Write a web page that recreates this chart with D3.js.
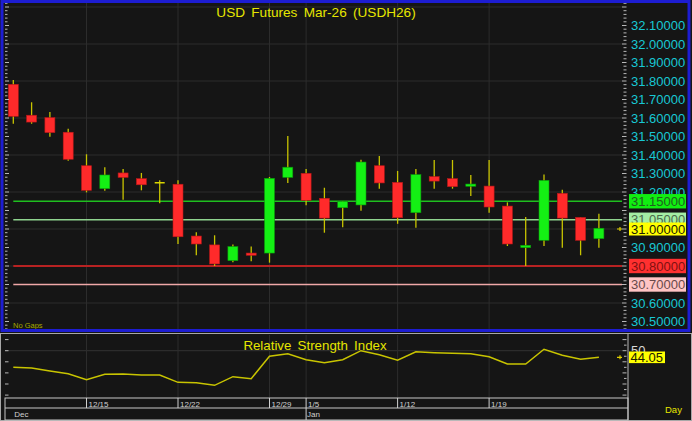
<!DOCTYPE html>
<html><head><meta charset="utf-8">
<script src="https://cdn.jsdelivr.net/npm/d3@7"></script>
<style>
html,body{margin:0;padding:0;background:#151515;}
svg{display:block;font-family:"Liberation Sans",Arial,sans-serif;}
</style></head><body>
<svg id="c" width="692" height="421"></svg>
<script>
// ---------- DATA ----------
const dates = ["2025-12-09","2025-12-10","2025-12-11","2025-12-12","2025-12-15","2025-12-16","2025-12-17","2025-12-18","2025-12-19",
  "2025-12-22","2025-12-23","2025-12-24","2025-12-25","2025-12-26","2025-12-29","2025-12-30",
  "2026-01-05","2026-01-06","2026-01-07","2026-01-08","2026-01-09","2026-01-12","2026-01-13","2026-01-14","2026-01-15","2026-01-16",
  "2026-01-19","2026-01-20","2026-01-21","2026-01-22","2026-01-23","2026-01-26","2026-01-27"];
const openP  = [31.782,31.615,31.602,31.523,31.342,31.218,31.303,31.272,31.250,31.242,30.962,30.914,30.829,30.870,30.870,31.279,31.301,31.166,31.115,31.130,31.342,31.252,31.088,31.283,31.272,31.231,31.232,31.124,30.899,30.939,31.193,31.063,30.948];
const highP  = [31.805,31.685,31.632,31.542,31.404,31.334,31.324,31.303,31.263,31.263,30.982,30.966,30.916,30.905,31.281,31.503,31.324,31.223,31.150,31.375,31.395,31.314,31.324,31.373,31.373,31.292,31.373,31.144,31.065,31.294,31.212,31.063,31.083];
const lowP   = [31.569,31.569,31.499,31.369,31.198,31.207,31.158,31.209,31.139,30.919,30.858,30.800,30.820,30.826,30.818,31.249,31.128,30.980,31.010,31.099,31.218,31.028,31.007,31.218,31.218,31.178,31.088,30.908,30.800,30.908,30.899,30.858,30.899];
const closeP = [31.609,31.578,31.521,31.377,31.209,31.292,31.279,31.239,31.250,30.958,30.919,30.811,30.905,30.858,31.274,31.334,31.155,31.059,31.148,31.362,31.249,31.061,31.294,31.259,31.229,31.243,31.119,30.919,30.912,31.263,31.059,30.939,31.004];
const rsiVals = [35.0,34.4,31.7,29.3,23.9,28.7,29.0,28.1,28.1,21.5,21.2,18.8,26.6,24.8,45.0,47.3,41.9,39.2,41.9,50.0,46.4,41.4,49.1,48.2,47.6,47.3,44.6,38.0,38.0,51.3,45.9,42.3,44.05];
// visible tick labels (31.10 and 31.00 are covered by level labels in the original)
const priceTicks = [32.1,32.0,31.9,31.8,31.7,31.6,31.5,31.4,31.3,31.2,30.9,30.6,30.5];
const gridPrices = [32.2,32.0,31.8,31.6,31.4,31.2,31.0,30.8,30.6];
const weekDates = ["2025-12-15","2025-12-22","2025-12-29","2026-01-05","2026-01-12","2026-01-19"];
const weekLabels = ["12/15","12/22","12/29","1/5","1/12","1/19"];
const monthDates = ["2025-12-09","2026-01-05"];
const monthLabels = ["Dec","Jan"];
const levelValues = [31.15, 31.05, 30.80, 30.70];
const lastPrice = 31.00;
const rsiTicksLeft = [10,20,30,40,50,60];
const rsiTicksRight = [10,15,20,25,30,35,40,45,50,55,60];
const rsiAxisLabel = 50;
const lastRsi = 44.05;
const title = "USD Futures Mar-26 (USDH26)";
const rsiTitle = "Relative Strength Index";

// ---------- STYLES ----------
const levelStyles = [
  {line:"#1fbf1f", w:1.5, bg:"#11ee11", fg:"#206020"},
  {line:"#8fd48f", w:1.5, bg:"#a4eea4", fg:"#4a6a4a"},
  {line:"#b82222", w:2,   bg:"#ff3030", fg:"#801010"},
  {line:"#f0a8a8", w:1.5, bg:"#ffc4c4", fg:"#6a4a4a"}
];

const svg = d3.select("#c");
const plotL = 5, plotR = 622, plotT = 3, plotB = 330;
const rsiT = 335, rsiB = 398;

const x = d3.scalePoint().domain(dates).range([13.3, 598.9]);
const y = d3.scaleLinear().domain([30.8, 32.1]).range([266, 25.5]);
const yR = d3.scaleLinear().domain([10, 60]).range([395.1, 339.6]);

svg.append("rect").attr("x",0).attr("y",0).attr("width",692).attr("height",421).attr("fill","#151515");

// ---------- MAIN PANE ----------
const main = svg.append("g");
svg.append("clipPath").attr("id","cm").append("rect")
  .attr("x",plotL).attr("y",plotT).attr("width",plotR-plotL).attr("height",plotB-plotT);

const g = main.append("g").attr("clip-path","url(#cm)");
g.selectAll(".hg").data(gridPrices).join("line")
  .attr("x1",plotL).attr("x2",plotR).attr("y1",d=>y(d)).attr("y2",d=>y(d))
  .attr("stroke","#2c2c2c").attr("stroke-width",1.2);
g.selectAll(".vg").data(weekDates).join("line")
  .attr("x1",d=>x(d)).attr("x2",d=>x(d)).attr("y1",plotT).attr("y2",plotB)
  .attr("stroke","#2c2c2c").attr("stroke-width",1);

g.selectAll(".lv").data(levelValues).join("line")
  .attr("x1",x(dates[0])).attr("x2",plotR)
  .attr("y1",d=>y(d)).attr("y2",d=>y(d))
  .attr("stroke",(d,i)=>levelStyles[i].line).attr("stroke-width",(d,i)=>levelStyles[i].w);

const idx = d3.range(dates.length);
const bodyW = 10;
const col = i => closeP[i] > openP[i] ? "#14f014" : (closeP[i] < openP[i] ? "#ff2a2a" : "#d8d800");
const edge = i => closeP[i] > openP[i] ? "#0a9a0a" : "#b81818";
g.selectAll(".wick").data(idx).join("line")
  .attr("x1",i=>x(dates[i])).attr("x2",i=>x(dates[i]))
  .attr("y1",i=>y(highP[i])).attr("y2",i=>y(lowP[i]))
  .attr("stroke","#c8c400").attr("stroke-width",1.3);
g.selectAll(".body").data(idx.filter(i=>closeP[i]!==openP[i])).join("rect")
  .attr("x",i=>x(dates[i])-bodyW/2)
  .attr("y",i=>y(Math.max(openP[i],closeP[i])))
  .attr("width",bodyW)
  .attr("height",i=>Math.max(2, y(Math.min(openP[i],closeP[i])) - y(Math.max(openP[i],closeP[i]))))
  .attr("fill",col).attr("stroke",edge).attr("stroke-width",0.6);
g.selectAll(".doji").data(idx.filter(i=>closeP[i]===openP[i])).join("line")
  .attr("x1",i=>x(dates[i])-bodyW/2).attr("x2",i=>x(dates[i])+bodyW/2)
  .attr("y1",i=>y(openP[i])).attr("y2",i=>y(openP[i]))
  .attr("stroke","#d8d400").attr("stroke-width",1.5);

main.append("text").attr("x",316).attr("y",16.5).attr("text-anchor","middle")
  .attr("fill","#e6e600").attr("font-size","13.6px").style("word-spacing","2.5px").text(title);
main.append("text").attr("x",13).attr("y",328).attr("fill","#a8a800").attr("font-size","7.5px").text("No Gaps");

const minorVals = d3.range(30.42, 32.23, 0.02);
main.selectAll(".lt").data(minorVals).join("line")
  .attr("x1",5).attr("x2",(d)=>Math.abs(Math.round(d*10)-d*10)<0.01?9:7.5)
  .attr("y1",d=>y(d)).attr("y2",d=>y(d)).attr("stroke","#b8b8b8").attr("stroke-width",1)
  .filter(d=>y(d)<plotT||y(d)>plotB).remove();
main.selectAll(".rt").data(minorVals).join("line")
  .attr("x1",(d)=>Math.abs(Math.round(d*10)-d*10)<0.01?622:623.5).attr("x2",626.5)
  .attr("y1",d=>y(d)).attr("y2",d=>y(d)).attr("stroke","#b8b8b8").attr("stroke-width",1)
  .filter(d=>y(d)<plotT||y(d)>plotB).remove();

const ax = d3.axisRight(y).tickValues(priceTicks).tickFormat(d3.format(".5f")).tickSize(0).tickPadding(9);
const axg = main.append("g").attr("transform","translate(622,0)").call(ax);
axg.select(".domain").remove();
axg.selectAll("text").attr("fill","#18c8d4").attr("font-size","13px")
  .attr("font-family","'Liberation Sans',Arial,sans-serif");

const lb = main.selectAll(".lb").data(levelValues).join("g")
  .attr("transform",d=>`translate(629,${y(d)})`);
lb.append("rect").attr("x",0).attr("y",-7.2).attr("width",57).attr("height",14.4)
  .attr("fill",(d,i)=>levelStyles[i].bg);
lb.append("text").attr("x",2).attr("dy","0.36em").attr("font-size","13px")
  .attr("fill",(d,i)=>levelStyles[i].fg).text(d=>d3.format(".5f")(d));
const lp = main.append("g").attr("transform",`translate(629,${y(lastPrice)})`);
lp.append("rect").attr("x",0).attr("y",-6.5).attr("width",57).attr("height",13).attr("fill","#ffff00");
lp.append("text").attr("x",2).attr("dy","0.36em").attr("font-size","13px").attr("fill","#202000").text(d3.format(".5f")(lastPrice));
main.append("path").attr("d",`M617,${y(lastPrice)}h5M620,${y(lastPrice)-2}v4`).attr("stroke","#e0d000").attr("stroke-width",1.2);

main.append("rect").attr("x",2).attr("y",1.5).attr("width",687).attr("height",329)
  .attr("fill","none").attr("stroke","#1d1dd2").attr("stroke-width",3);

// ---------- RSI PANE ----------
const r = svg.append("g");
r.append("rect").attr("x",0.5).attr("y",333.5).attr("width",691).attr("height",87)
  .attr("fill","none").attr("stroke","#a8a8a8").attr("stroke-width",1);
r.append("line").attr("x1",5).attr("x2",622).attr("y1",yR(50)).attr("y2",yR(50)).attr("stroke","#2c2c2c").attr("stroke-width",1.2);
r.selectAll(".rvg").data(weekDates).join("line")
  .attr("x1",d=>x(d)).attr("x2",d=>x(d)).attr("y1",rsiT).attr("y2",rsiB)
  .attr("stroke","#2c2c2c").attr("stroke-width",1);
r.append("text").attr("x",315).attr("y",349.5).attr("text-anchor","middle")
  .attr("fill","#e6e600").attr("font-size","13.3px").style("word-spacing","2.5px").text(rsiTitle);
const line = d3.line().x((d,i)=>x(dates[i])).y(d=>yR(d));
r.append("path").datum(rsiVals).attr("d",line).attr("fill","none").attr("stroke","#c8c400").attr("stroke-width",1.5);
r.selectAll(".rlt").data(rsiTicksLeft).join("line")
  .attr("x1",5).attr("x2",8.5).attr("y1",d=>yR(d)).attr("y2",d=>yR(d)).attr("stroke","#b8b8b8");
r.selectAll(".rrt").data(rsiTicksRight).join("line")
  .attr("x1",d=>d%10===0?622.5:624).attr("x2",626.5).attr("y1",d=>yR(d)).attr("y2",d=>yR(d)).attr("stroke","#b8b8b8");
r.append("text").attr("x",631).attr("y",yR(rsiAxisLabel)).attr("dy","0.36em").attr("font-size","13px").attr("fill","#d8d8d8").text(rsiAxisLabel);
const rl = r.append("g").attr("transform",`translate(629,${yR(lastRsi)})`);
rl.append("rect").attr("x",0).attr("y",-5.8).attr("width",36).attr("height",11.6).attr("fill","#ffff00");
rl.append("text").attr("x",1.5).attr("dy","0.38em").attr("font-size","13px").attr("fill","#202000").text(d3.format(".2f")(lastRsi));
r.append("path").attr("d",`M617,${yR(lastRsi)}h5M620,${yR(lastRsi)-2}v4`).attr("stroke","#e0d000").attr("stroke-width",1.2);

r.append("line").attr("x1",628).attr("x2",628).attr("y1",334).attr("y2",420).attr("stroke","#b8b8b8");
r.append("rect").attr("x",5).attr("y",398).attr("width",623).attr("height",22).attr("fill","none").attr("stroke","#c8c8c8");
r.append("line").attr("x1",5).attr("x2",628).attr("y1",408).attr("y2",408).attr("stroke","#c8c8c8");
r.selectAll(".wt").data(weekDates).join("line")
  .attr("x1",d=>x(d)).attr("x2",d=>x(d)).attr("y1",398).attr("y2",d=>monthDates.includes(d)?420:408).attr("stroke","#d0d0d0");
r.selectAll(".wl").data(weekDates).join("text")
  .attr("x",d=>x(d)+2).attr("y",406.5).attr("font-size","8px").attr("fill","#d0d0d0")
  .text((d,i)=>weekLabels[i]);
r.selectAll(".ml").data(monthDates).join("text")
  .attr("x",d=>x(d)+1).attr("y",417).attr("font-size","8px").attr("fill","#d0d0d0")
  .text((d,i)=>monthLabels[i]);
r.append("text").attr("x",665).attr("y",413).attr("font-size","9.5px").attr("fill","#e6e600").text("Day");
</script>
</body></html>
